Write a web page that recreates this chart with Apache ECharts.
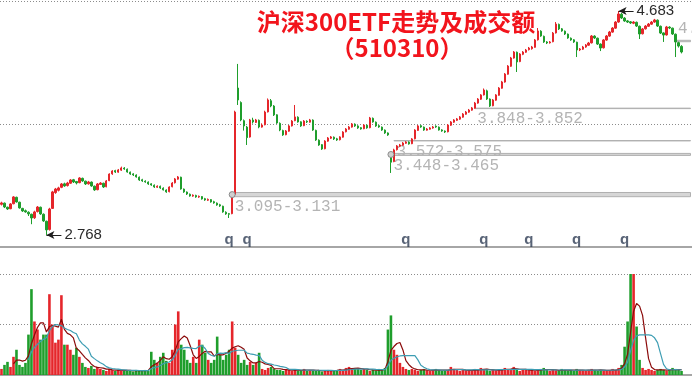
<!DOCTYPE html>
<html><head><meta charset="utf-8">
<script src="https://cdn.jsdelivr.net/npm/echarts@6/dist/echarts.min.js"></script>
<style>html,body{margin:0;padding:0;background:#fff}#c{width:692px;height:377px}</style>
</head><body><div id="c"></div>
<script>
// [open, close, low, high]
const candles = [
[3.030,3.042,3.020,3.052],[3.040,3.007,2.998,3.045],[3.005,2.990,2.982,3.010],[2.992,3.033,2.988,3.040],[3.035,3.093,3.030,3.100],
[3.090,3.050,3.045,3.095],[3.048,2.999,2.993,3.052],[2.995,2.973,2.965,3.000],[2.975,2.965,2.958,2.985],[2.962,2.948,2.930,2.970],
[2.945,2.913,2.860,2.950],[2.915,2.965,2.905,2.975],[2.968,3.007,2.960,3.015],[3.005,2.948,2.940,3.010],[2.945,2.888,2.880,2.952],
[2.885,2.811,2.768,2.890],[2.815,2.990,2.805,3.000],[2.995,3.136,2.990,3.145],[3.130,3.161,3.120,3.170],[3.150,3.170,3.140,3.180],
[3.175,3.204,3.168,3.212],[3.205,3.187,3.180,3.215],[3.190,3.212,3.182,3.222],[3.210,3.238,3.205,3.245],[3.240,3.221,3.212,3.247],
[3.225,3.212,3.200,3.230],[3.215,3.255,3.210,3.262],[3.252,3.230,3.222,3.258],[3.228,3.204,3.195,3.232],[3.205,3.221,3.198,3.230],
[3.220,3.187,3.180,3.225],[3.185,3.153,3.145,3.190],[3.155,3.204,3.150,3.212],[3.200,3.212,3.195,3.220],[3.210,3.178,3.170,3.215],
[3.180,3.230,3.175,3.238],[3.232,3.289,3.228,3.295],[3.290,3.315,3.282,3.322],[3.318,3.306,3.298,3.325],[3.305,3.324,3.300,3.332],
[3.322,3.341,3.315,3.352],[3.340,3.332,3.325,3.348],[3.330,3.306,3.300,3.336],[3.305,3.289,3.282,3.310],[3.290,3.281,3.272,3.296],
[3.280,3.264,3.258,3.286],[3.262,3.238,3.230,3.268],[3.240,3.230,3.222,3.248],[3.228,3.221,3.214,3.235],[3.220,3.204,3.196,3.226],
[3.205,3.195,3.188,3.210],[3.193,3.178,3.170,3.200],[3.176,3.185,3.170,3.192],[3.184,3.170,3.162,3.190],[3.168,3.153,3.148,3.175],
[3.152,3.136,3.128,3.158],[3.138,3.178,3.132,3.184],[3.180,3.212,3.175,3.220],[3.214,3.247,3.208,3.255],[3.245,3.264,3.240,3.272],
[3.262,3.161,3.155,3.266],[3.160,3.136,3.128,3.165],[3.135,3.118,3.110,3.140],[3.116,3.101,3.095,3.122],[3.100,3.108,3.094,3.115],
[3.106,3.093,3.086,3.112],[3.092,3.098,3.085,3.105],[3.096,3.076,3.070,3.100],[3.078,3.067,3.060,3.085],[3.065,3.072,3.058,3.080],
[3.070,3.050,3.044,3.075],[3.052,3.042,3.035,3.060],[3.040,3.024,3.018,3.046],[3.026,3.016,3.008,3.034],[3.014,2.965,2.958,3.018],
[2.962,2.948,2.940,2.970],[2.950,2.945,2.913,2.956],[2.950,3.110,2.945,3.118],[3.115,3.819,3.110,3.830],[4.024,3.922,3.879,4.230],
[3.900,3.751,3.740,3.910],[3.745,3.700,3.660,3.755],[3.690,3.600,3.537,3.700],[3.605,3.751,3.600,3.760],[3.750,3.734,3.720,3.770],
[3.730,3.751,3.725,3.760],[3.748,3.691,3.680,3.755],[3.690,3.708,3.685,3.722],[3.710,3.819,3.705,3.830],[3.820,3.922,3.815,3.935],
[3.915,3.871,3.860,3.930],[3.870,3.794,3.785,3.878],[3.795,3.725,3.718,3.800],[3.722,3.665,3.655,3.730],[3.660,3.623,3.615,3.668],
[3.625,3.657,3.620,3.665],[3.655,3.700,3.650,3.708],[3.700,3.742,3.695,3.750],[3.745,3.777,3.740,3.879],[3.775,3.734,3.728,3.782],
[3.735,3.700,3.692,3.740],[3.702,3.742,3.698,3.750],[3.740,3.734,3.725,3.748],[3.732,3.751,3.728,3.760],[3.750,3.665,3.658,3.756],
[3.662,3.580,3.572,3.668],[3.578,3.537,3.530,3.585],[3.540,3.503,3.495,3.545],[3.505,3.571,3.500,3.578],[3.570,3.597,3.565,3.605],
[3.595,3.606,3.588,3.614],[3.604,3.589,3.580,3.610],[3.590,3.580,3.572,3.598],[3.582,3.606,3.576,3.612],[3.604,3.648,3.600,3.655],
[3.650,3.674,3.645,3.682],[3.672,3.691,3.668,3.700],[3.690,3.717,3.685,3.725],[3.715,3.700,3.692,3.722],[3.700,3.683,3.675,3.706],
[3.685,3.674,3.668,3.690],[3.676,3.708,3.672,3.715],[3.706,3.683,3.676,3.712],[3.685,3.768,3.680,3.777],[3.765,3.734,3.728,3.772],
[3.732,3.700,3.692,3.738],[3.702,3.691,3.684,3.708],[3.690,3.665,3.658,3.695],[3.664,3.640,3.632,3.670],[3.640,3.623,3.615,3.645],
[3.470,3.390,3.298,3.478],[3.395,3.495,3.390,3.505],[3.497,3.529,3.490,3.537],[3.527,3.537,3.520,3.546],[3.535,3.554,3.530,3.562],
[3.552,3.563,3.546,3.570],[3.562,3.546,3.540,3.568],[3.548,3.589,3.544,3.596],[3.590,3.665,3.585,3.672],[3.662,3.700,3.658,3.708],
[3.702,3.691,3.684,3.710],[3.690,3.665,3.658,3.695],[3.664,3.674,3.660,3.682],[3.672,3.683,3.668,3.690],[3.682,3.691,3.676,3.700],
[3.698,3.691,3.684,3.705],[3.690,3.665,3.660,3.695],[3.666,3.657,3.650,3.672],[3.656,3.648,3.640,3.662],[3.650,3.708,3.645,3.715],
[3.706,3.734,3.700,3.742],[3.732,3.751,3.726,3.758],[3.748,3.760,3.742,3.768],[3.758,3.777,3.752,3.785],[3.775,3.802,3.770,3.810],
[3.800,3.819,3.795,3.828],[3.818,3.836,3.812,3.845],[3.835,3.854,3.830,3.862],[3.852,3.896,3.848,3.905],[3.895,3.930,3.890,3.938],
[3.928,3.965,3.922,3.972],[3.965,4.007,3.960,4.020],[4.000,3.930,3.922,4.010],[3.930,3.871,3.862,3.935],[3.872,3.922,3.868,3.930],
[3.920,3.965,3.915,3.972],[3.962,4.024,3.958,4.032],[4.022,4.076,4.018,4.085],[4.075,4.144,4.070,4.152],[4.142,4.212,4.138,4.220],
[4.210,4.281,4.205,4.290],[4.280,4.332,4.275,4.340],[4.330,4.247,4.161,4.336],[4.250,4.315,4.245,4.322],[4.312,4.332,4.305,4.340],
[4.330,4.349,4.325,4.358],[4.352,4.366,4.345,4.375],[4.360,4.375,4.352,4.384],[4.372,4.435,4.368,4.443],[4.436,4.512,4.430,4.537],
[4.510,4.469,4.462,4.518],[4.466,4.418,4.410,4.472],[4.418,4.409,4.400,4.425],[4.410,4.418,4.404,4.426],[4.420,4.494,4.415,4.503],
[4.495,4.571,4.490,4.588],[4.568,4.529,4.520,4.575],[4.530,4.512,4.505,4.537],[4.510,4.486,4.478,4.516],[4.485,4.452,4.445,4.490],
[4.450,4.435,4.428,4.456],[4.436,4.418,4.410,4.442],[4.416,4.349,4.289,4.420],[4.350,4.358,4.340,4.366],[4.356,4.375,4.350,4.384],
[4.374,4.392,4.368,4.400],[4.390,4.409,4.384,4.418],[4.410,4.469,4.405,4.477],[4.468,4.452,4.444,4.475],[4.450,4.400,4.392,4.455],
[4.400,4.366,4.340,4.405],[4.368,4.435,4.362,4.442],[4.434,4.469,4.428,4.477],[4.468,4.503,4.462,4.512],[4.502,4.537,4.496,4.545],
[4.536,4.588,4.530,4.596],[4.588,4.657,4.582,4.683],[4.655,4.623,4.615,4.666],[4.622,4.597,4.590,4.630],[4.598,4.588,4.580,4.605],
[4.590,4.580,4.572,4.597],[4.578,4.588,4.570,4.596],[4.586,4.554,4.546,4.592],[4.552,4.486,4.443,4.558],[4.488,4.529,4.482,4.537],
[4.530,4.554,4.524,4.562],[4.552,4.571,4.546,4.580],[4.570,4.588,4.565,4.597],[4.588,4.606,4.582,4.615],[4.604,4.554,4.546,4.610],
[4.552,4.494,4.486,4.558],[4.495,4.477,4.418,4.500],[4.478,4.546,4.472,4.555],[4.545,4.537,4.528,4.552],[4.536,4.486,4.478,4.540],
[4.484,4.418,4.289,4.490],[4.412,4.383,4.370,4.420],[4.380,4.332,4.320,4.390]
];
const volumes = [
.12,.2,.26,.16,.36,.5,.2,.16,.24,.8,
1.7,1.06,.9,.7,.8,.8,1.6,1.0,.64,.7,
1.58,.6,.6,.5,.4,.54,.36,.24,.16,.14,
.18,.12,.16,.12,.1,.08,.12,.1,.08,.1,
.09,.08,.1,.08,.07,.1,.09,.08,.1,.08,
.46,.3,.24,.36,.44,.28,.24,.5,1.0,1.26,
.6,.5,.3,.24,.36,.24,.7,.6,.44,.3,
.24,.3,.76,.4,.3,.4,.5,1.06,.54,.4,
.24,.3,.2,.26,.2,.24,.44,.12,.1,.14,
.16,.12,.1,.1,.08,.12,.1,.08,.1,.09,
.1,.12,.08,.1,.09,.08,.1,.07,.08,.1,
.09,.08,.1,.12,.1,.14,.16,.12,.14,.12,
.1,.12,.1,.08,.1,.09,.12,.1,.14,.9,
1.18,.5,.4,.24,.16,.12,.1,.12,.1,.08,
.1,.12,.09,.08,.1,.12,.1,.08,.09,.1,
.16,.12,.1,.08,.1,.09,.08,.1,.12,.1,
.14,.1,.12,.08,.1,.09,.1,.12,.14,.1,
.12,.16,.1,.08,.1,.12,.09,.1,.08,.1,
.12,.14,.1,.08,.1,.09,.08,.12,.1,.09,
.1,.08,.12,.1,.09,.08,.1,.12,.1,.08,
.1,.09,.08,.1,.12,.1,.14,.2,.56,1.06,
2.3,2.2,.96,.3,.14,.1,.12,.1,.08,.1,
.12,.1,.08,.1,.14,.12,.1,.08
];
// support / resistance bands
const bandStart = [77, 130, 131, 158, 225];
const bandLow   = [3.095, 3.448, 3.572, 3.848, 4.420];
const bandHigh  = [3.131, 3.465, 3.575, 3.852, 4.432];
const bandLabelAbove = [false, false, false, false, true];
const circleMarks = [[77, 3.113], [130, 3.456]];
// extreme markers
const lowMark = { index: 15, value: 2.768 };
const highMark = { index: 206, value: 4.683 };
// "q" event markers
const qMarks = [76, 82, 135, 161, 176, 192, 208];

const UP = '#e5262b', DOWN = '#1f9e2c';
const categories = candles.map((_, i) => 'd' + (i + 1)).concat(['e1', 'e2', 'e3']);
const lastCat = categories[categories.length - 1];

function ma(arr, n) {
  return arr.map((_, i) => {
    if (i < n - 1) return '-';
    let s = 0; for (let k = i - n + 1; k <= i; k++) s += arr[k];
    return +(s / n).toFixed(4);
  });
}

const bandAreas = bandStart.map((s, k) => [
  { xAxis: categories[s], yAxis: bandHigh[k],
    label: {
      show: true,
      formatter: bandLow[k].toFixed(3) + '-' + bandHigh[k].toFixed(3),
      position: bandLabelAbove[k] ? [3, 0] : [3, '100%'],
      align: 'left',
      verticalAlign: bandLabelAbove[k] ? 'bottom' : 'top',
      offset: bandLabelAbove[k] ? [0, -3] : [0, 2],
      color: '#b4b4b4', fontSize: 16, fontFamily: 'Liberation Mono'
    } },
  { xAxis: lastCat, yAxis: bandLow[k] }
]);

const chart = echarts.init(document.getElementById('c'), null, { renderer: 'canvas' });
chart.setOption({
  animation: false,
  backgroundColor: '#fff',
  grid: [
    { left: 0, right: 0, top: 1, height: 246 },
    { left: 0, right: 0, top: 274, height: 101 }
  ],
  xAxis: [
    { type: 'category', gridIndex: 0, data: categories, boundaryGap: true,
      axisLine: { show: true, lineStyle: { color: '#a6a6a6', width: 2 } },
      axisTick: { show: false }, axisLabel: { show: false }, splitLine: { show: false } },
    { type: 'category', gridIndex: 1, data: categories, boundaryGap: true,
      axisLine: { show: true, lineStyle: { color: '#a6a6a6', width: 2 } },
      axisTick: { show: false }, axisLabel: { show: false }, splitLine: { show: false } }
  ],
  yAxis: [
    { type: 'value', gridIndex: 0, min: 2.665, max: 4.768, show: false, splitLine: { show: false } },
    { type: 'value', gridIndex: 0, min: 0, max: 2, interval: 1,
      axisLine: { show: false }, axisTick: { show: false }, axisLabel: { show: false },
      splitLine: { show: true, lineStyle: { color: '#8c8c8c', type: [1, 2], width: 1 } } },
    { type: 'value', gridIndex: 1, min: 0, max: 2, interval: 1,
      axisLine: { show: false }, axisTick: { show: false }, axisLabel: { show: false },
      splitLine: { show: true, lineStyle: { color: '#8c8c8c', type: [1, 2], width: 1 } } }
  ],
  graphic: [
    { type: 'text', x: 396, y: 22, z: 100,
      style: { text: '沪深300ETF走势及成交额', fill: '#f2141c',
        font: 'bold 24px "Noto Sans CJK SC"', align: 'center', verticalAlign: 'middle',
        textAlign: 'center', textVerticalAlign: 'middle' } },
    { type: 'text', x: 397, y: 48, z: 100,
      style: { text: '（510310）', fill: '#f2141c',
        font: 'bold 24px "Noto Sans CJK SC"', align: 'center', verticalAlign: 'middle',
        textAlign: 'center', textVerticalAlign: 'middle' } }
  ],
  series: [
    {
      type: 'candlestick', xAxisIndex: 0, yAxisIndex: 0,
      data: candles, barWidth: 1.8,
      itemStyle: { color: UP, color0: DOWN, borderColor: UP, borderColor0: DOWN, borderWidth: 1 },
      markArea: {
        silent: true,
        itemStyle: { color: '#d6d6d6', borderColor: '#b0b0b0', borderWidth: 1 },
        data: bandAreas
      },
      markPoint: {
        silent: true, symbol: 'circle', symbolSize: 6,
        itemStyle: { color: '#d0d0d0', borderColor: '#8a8a8a', borderWidth: 1 },
        label: { show: false },
        data: circleMarks.map(c => ({ coord: [categories[c[0]], c[1]] }))
      },
      markLine: {
        silent: true, symbol: ['arrow', 'none'], symbolSize: [6, 8],
        lineStyle: { color: '#1e1e1e', type: 'solid', width: 1 },
        label: { show: true, position: 'end', distance: 3, color: '#2a2a2a', fontSize: 15,
                 fontFamily: 'Liberation Sans', formatter: p => p.data.name },
        data: [
          [{ name: lowMark.value.toFixed(3), coord: [categories[lowMark.index], lowMark.value] },
           { coord: [categories[lowMark.index + 5], lowMark.value] }],
          [{ name: highMark.value.toFixed(3), coord: [categories[highMark.index], highMark.value] },
           { coord: [categories[highMark.index + 5], highMark.value] }]
        ]
      }
    },
    {
      type: 'scatter', xAxisIndex: 0, yAxisIndex: 0, silent: true,
      symbolSize: 1, itemStyle: { color: 'rgba(0,0,0,0)' },
      label: { show: true, formatter: 'q', position: 'inside', color: '#2f3d55',
               fontSize: 15, fontWeight: 'bold', fontFamily: 'Liberation Sans' },
      data: qMarks.map(i => [categories[i], 2.722])
    },
    {
      type: 'bar', xAxisIndex: 1, yAxisIndex: 2, barWidth: 2.6,
      data: volumes.map((v, i) => ({ value: v,
        itemStyle: { color: candles[i][1] >= candles[i][0] ? UP : DOWN } }))
    },
    {
      type: 'line', xAxisIndex: 1, yAxisIndex: 2, data: ma(volumes, 5),
      symbol: 'none', lineStyle: { color: '#8b0a0a', width: 1.2 }
    },
    {
      type: 'line', xAxisIndex: 1, yAxisIndex: 2, data: ma(volumes, 10),
      symbol: 'none', lineStyle: { color: '#3d9db3', width: 1.2 }
    }
  ]
});
</script></body></html>
